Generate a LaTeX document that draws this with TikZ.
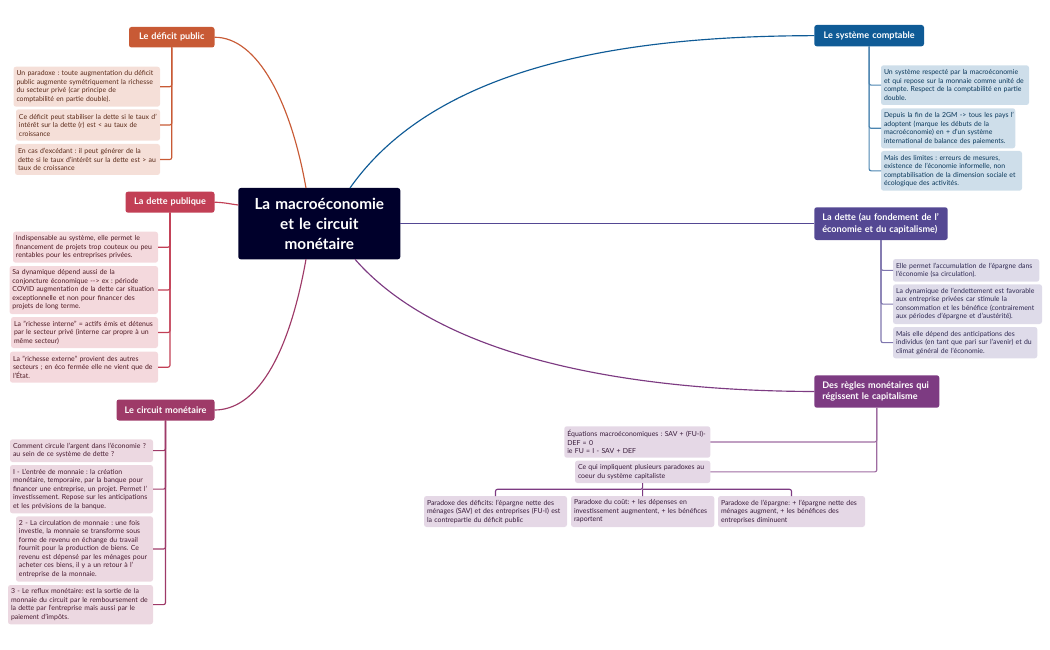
\documentclass[tikz,border=0pt]{standalone}
\usepackage{fontspec}
\setmainfont{Lato}
\definecolor{cA}{HTML}{C85A35}\definecolor{tA}{HTML}{F5DFD8}
\definecolor{cB}{HTML}{C23F55}\definecolor{tB}{HTML}{F4D9DD}
\definecolor{cC}{HTML}{9E3A68}\definecolor{tC}{HTML}{ECD8E1}
\definecolor{cD}{HTML}{0F5B96}\definecolor{tD}{HTML}{CEDEEA}
\definecolor{cE}{HTML}{544893}\definecolor{tE}{HTML}{DEDBE9}
\definecolor{cF}{HTML}{7D3B82}\definecolor{tF}{HTML}{E5D8E6}
\definecolor{ink}{HTML}{00002B}
% \mmbox{name}{style}{x1}{y1}{x2}{y2}{text}
\newcommand\mmbox[7]{%
  \pgfmathsetmacro\mmw{#5-#3}\pgfmathsetmacro\mmh{#6-#4}%
  \pgfmathsetmacro\mmx{(#3+#5)/2}\pgfmathsetmacro\mmy{(#4+#6)/2}%
  \node[#2,minimum width=\mmw pt,minimum height=\mmh pt,text width=\mmw pt-6pt] (#1) at (\mmx,\mmy) {#7};}
\tikzset{
  every node/.style={inner sep=0pt,outer sep=0pt,rounded corners=2.5pt,align=left},
  leaf/.style={font=\fontsize{6.9}{8.5}\selectfont\frenchspacing},
  leafA/.style={leaf,fill=tA,text=cA!45!black},
  leafB/.style={leaf,fill=tB,text=cB!40!black},
  leafC/.style={leaf,fill=tC,text=cC!45!black},
  leafD/.style={leaf,fill=tD,text=cD!60!black},
  leafE/.style={leaf,fill=tE,text=cE!55!black},
  leafF/.style={leaf,fill=tF,text=cF!45!black},
  main/.style={text=white,font=\fontsize{9.1}{11.5}\selectfont\bfseries},
  mainc/.style={main,align=center},
  root/.style={fill=ink,text=white,align=center,font=\fontsize{15.3}{20}\selectfont\bfseries},
  link/.style={line width=1.15pt},
  trunk/.style={line width=1.15pt,rounded corners=2pt},
}
\begin{document}
\begin{tikzpicture}[x=1pt,y=-1pt]
\useasboundingbox (0,0) rectangle (1050,650);
\mmbox{root}{root}{238.3}{188}{400.3}{259.3}{La macroéconomie\\et le circuit\\monétaire}
% branches
\mmbox{a}{mainc,fill=cA}{129}{27}{214.5}{47.5}{Le déficit public}
\mmbox{b}{mainc,fill=cB}{125.5}{191.7}{214.5}{212.7}{La dette publique}
\mmbox{c}{mainc,fill=cC}{116.5}{399.5}{214.5}{420.5}{Le circuit monétaire}
\mmbox{d}{mainc,fill=cD}{814.3}{25}{924}{46.3}{Le système comptable}
\mmbox{e}{main,fill=cE}{814.3}{207.3}{947.7}{240}{\hspace*{5pt}La dette (au fondement de l'\\\hspace*{5pt}économie et du capitalisme)}
\mmbox{f}{main,fill=cF}{814.3}{375.3}{939.3}{407.7}{\hspace*{5pt}Des règles monétaires qui\\\hspace*{5pt}régissent le capitalisme}
% central links
\coordinate (rA) at (306,188);
\coordinate (rC) at (306,259.3);
\coordinate (rD) at (350,188);
\coordinate (rF) at (355,259.3);
\draw[link,cA] (a.east) .. controls (258,37) and (291,103) .. (rA);
\draw[link,cB] (b.east) .. controls (225,202.5) and (230,204) .. (root.west |- 0,205);
\draw[link,cC] (c.east) .. controls (255,410) and (288,360) .. (rC);
\draw[link,cD] (d.west) .. controls (640,36) and (440,60) .. (rD);
\draw[link,cE] (root.east |- e.west) -- (e.west);
\draw[link,cF] (f.west) .. controls (640,391) and (445,362) .. (rF);
% leaves A
\mmbox{a1}{leafA}{13.5}{66.7}{160}{106.7}{Un paradoxe : toute augmentation du déficit\\public augmente symétriquement la richesse\\du secteur privé (car principe de\\comptabilité en partie double).}
\mmbox{a2}{leafA}{16}{109.3}{160}{140.7}{Ce déficit peut stabiliser la dette si le taux d'\\intérêt sur la dette (r) est < au taux de\\croissance}
\mmbox{a3}{leafA}{15}{144}{160}{175}{En cas d'excédant : il peut générer de la\\dette si le taux d'intérêt sur la dette est > au\\taux de croissance}
\foreach \n in {a1,a2,a3} \draw[trunk,cA] (a.south) |- (\n.east);
% leaves B
\mmbox{b1}{leafB}{13}{231.7}{158}{262.7}{Indispensable au système, elle permet le\\financement de projets trop couteux ou peu\\rentables pour les entreprises privées.}
\mmbox{b2}{leafB}{9.5}{266}{158}{314}{Sa dynamique dépend aussi de la\\conjoncture économique -{}-> ex : période\\COVID augmentation de la dette car situation\\exceptionnelle et non pour financer des\\projets de long terme.}
\mmbox{b3}{leafB}{11}{317}{158}{348}{La "richesse interne" = actifs émis et détenus\\par le secteur privé (interne car propre à un\\même secteur)}
\mmbox{b4}{leafB}{10}{351.7}{158}{382.7}{La "richesse externe" provient des autres\\secteurs ; en éco fermée elle ne vient que de\\l'État.}
\foreach \n in {b1,b2,b3,b4} \draw[trunk,cB] (b.south) |- (\n.east);
% leaves C
\mmbox{c1}{leafC}{10}{439.3}{153}{462}{Comment circule l'argent dans l'économie ?\\au sein de ce système de dette ?}
\mmbox{c2}{leafC}{10}{465}{153}{513.3}{I - L'entrée de monnaie : la création\\monétaire, temporaire, par la banque pour\\financer une entreprise, un projet. Permet l'\\investissement. Repose sur les anticipations\\et les prévisions de la banque.}
\mmbox{c3}{leafC}{16}{516.3}{153}{581.7}{2 - La circulation de monnaie : une fois\\investie, la monnaie se transforme sous\\forme de revenu en échange du travail\\fournit pour la production de biens. Ce\\revenu est dépensé par les ménages pour\\acheter ces biens, il y a un retour à l'\\entreprise de la monnaie.}
\mmbox{c4}{leafC}{8}{585}{153}{624.3}{3 - Le reflux monétaire: est la sortie de la\\monnaie du circuit par le remboursement de\\la dette par l'entreprise mais aussi par le\\paiement d'impôts.}
\foreach \n in {c1,c2,c3,c4} \draw[trunk,cC] (c.south) |- (\n.east);
% leaves D
\mmbox{d1}{leafD}{881}{65.3}{1029}{105}{Un système respecté par la macroéconomie\\et qui repose sur la monnaie comme unité de\\compte. Respect de la comptabilité en partie\\double.}
\mmbox{d2}{leafD}{881}{108.3}{1015.3}{148.3}{\mbox{Depuis la fin de la 2GM -> tous les pays l'}\\adoptent (marque les débuts de la\\macroéconomie) en + d'un système\\\mbox{international de balance des paiements.}}
\mmbox{d3}{leafD}{881}{151}{1022}{190.7}{Mais des limites : erreurs de mesures,\\existence de l'économie informelle, non\\comptabilisation de la dimension sociale et\\écologique des activités.}
\foreach \n in {d1,d2,d3} \draw[trunk,cD!75!white] (d.south) |- (\n.west);
% leaves E
\mmbox{e1}{leafE}{893}{259}{1039.3}{281.7}{Elle permet l'accumulation de l'épargne dans\\l'économie (sa circulation).}
\mmbox{e2}{leafE}{893}{284.3}{1042}{324}{La dynamique de l'endettement est favorable\\aux entreprise privées car stimule la\\consommation et les bénéfice (contrairement\\aux périodes d'épargne et d'austérité).}
\mmbox{e3}{leafE}{893}{327}{1037.3}{358.3}{Mais elle dépend des anticipations des\\individus (en tant que pari sur l'avenir) et du\\climat général de l'économie.}
\foreach \n in {e1,e2,e3} \draw[trunk,cE!75!white] (e.south) |- (\n.west);
% leaves F
\mmbox{f1}{leafF}{564.3}{426.3}{710.3}{457.7}{Équations macroéconomiques : SAV + (FU-I)-\\DEF = 0\\ie FU = I - SAV + DEF}
\mmbox{f2}{leafF}{575}{460.7}{710.3}{483}{Ce qui impliquent plusieurs paradoxes au\\coeur du système capitaliste}
\foreach \n in {f1,f2} \draw[trunk,cF!75!white] (f.south) |- (\n.east);
\mmbox{p1}{leafF}{424}{496}{567}{527}{Paradoxe des déficits: l'épargne nette des\\ménages (SAV) et des entreprises (FU-I) est\\la contrepartie du déficit public}
\mmbox{p2}{leafF}{571}{496}{714.3}{527}{Paradoxe du coût: + les dépenses en\\investissement augmentent, + les bénéfices\\raportent}
\mmbox{p3}{leafF}{718}{496}{865}{527}{Paradoxe de l'épargne: + l'épargne nette des\\ménages augment, + les bénéfices des\\entreprises diminuent}
\coordinate (bus) at (642.6,489.3);
\draw[trunk,cF] (p2.north) -- (bus);
\draw[trunk,cF] (f2.south -| bus) -- (bus) -| (p1.north);
\draw[trunk,cF] (bus) -| (p3.north);
\end{tikzpicture}
\end{document}
